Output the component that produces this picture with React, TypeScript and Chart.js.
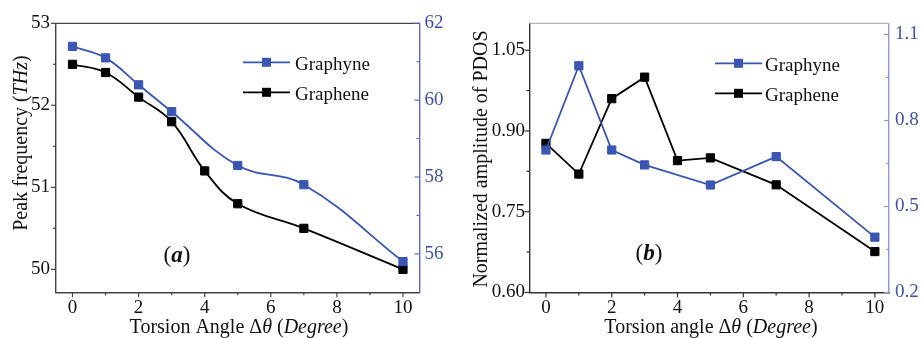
import { useEffect, useRef } from 'react';
import { Chart, registerables } from 'chart.js';

Chart.register(...registerables);

// Torsion angles sampled for each lattice
const grapheneAngles = [0, 1, 2, 3, 4, 5, 7, 10];
const graphyneAngles = [0, 1, 2, 3, 5, 7, 10];

// (a) peak phonon frequency, THz
const peakGraphene = [52.5, 52.4, 52.1, 51.8, 51.2, 50.8, 50.5, 50.0];
const peakGraphyne = [61.4, 61.1, 60.4, 59.7, 58.3, 57.8, 55.8];

// (b) normalized PDOS amplitude
const pdosGraphene = [0.877, 0.82, 0.96, 1.0, 0.845, 0.85, 0.8, 0.676];
const pdosGraphyne = [0.697, 0.991, 0.697, 0.645, 0.575, 0.674, 0.393];

// Tick values
const xMajor = [0, 2, 4, 6, 8, 10];
const xMinor = [1, 3, 5, 7, 9];
const peakLeftMajor = [50, 51, 52, 53];
const peakLeftMinor = [50.5, 51.5, 52.5];
const peakRightMajor = [56, 58, 60, 62];
const peakRightMinor = [57, 59, 61];
const pdosLeftMajor = [0.6, 0.75, 0.9, 1.05];
const pdosLeftMinor = [0.675, 0.825, 0.975];
const pdosRightMajor = [0.2, 0.5, 0.8, 1.1];
const pdosRightMinor = [0.35, 0.65, 0.95];

const BLUE = '#3a55b2';
const BLUE_TEXT = '#3f51a6';
const SERIF = '"Liberation Serif", "Times New Roman", serif';

type Part = { text: string; style?: string };

function drawRich(
  ctx: CanvasRenderingContext2D,
  parts: Part[],
  cx: number,
  base: number,
  size: number,
  rotate = false,
  color = '#111'
) {
  const fontOf = (p: Part) => `${p.style || ''} ${size}px ${SERIF}`;
  let total = 0;
  for (const p of parts) {
    ctx.font = fontOf(p);
    total += ctx.measureText(p.text).width;
  }
  ctx.save();
  ctx.translate(cx, base);
  if (rotate) ctx.rotate(-Math.PI / 2);
  ctx.fillStyle = color;
  ctx.textAlign = 'left';
  ctx.textBaseline = 'alphabetic';
  let x = -total / 2;
  for (const p of parts) {
    ctx.font = fontOf(p);
    ctx.fillText(p.text, x, 0);
    x += ctx.measureText(p.text).width;
  }
  ctx.restore();
}

type LegendRow = { label: string; color: string; lineY: number; base: number };

type PanelSpec = {
  width: number;
  area: { left: number; right: number; top: number; bottom: number };
  xRange: [number, number];
  leftRange: [number, number];
  rightRange: [number, number];
  leftMajor: number[];
  leftMinor: number[];
  rightMajor: number[];
  rightMinor: number[];
  leftDigits: number;
  rightDigits: number;
  leftPad: number;
  rightPad: number;
  frameColor: string;
  topColor: string;
  rightAxisColor: string;
  tension: number;
  blueSeries: number[];
  blackSeries: number[];
  xTitle: Part[];
  xTitleCx: number;
  yTitle: Part[];
  yTitleX: number;
  yTitleCy: number;
  legend: { x1: number; x2: number; tx: number; rows: LegendRow[] };
  tag: string;
  tagCx: number;
  tagBase: number;
};

function Panel({ spec }: { spec: PanelSpec }) {
  const ref = useRef<HTMLCanvasElement | null>(null);

  useEffect(() => {
    const canvas = ref.current;
    if (!canvas) return;
    const s = spec;
    const H = 338;

    const decorations = {
      id: 'decorations',
      afterDraw(chart: any) {
        const ctx: CanvasRenderingContext2D = chart.ctx;
        const ca = chart.chartArea;
        const xs = chart.scales.x;
        const yl = chart.scales.y;
        const yr = chart.scales.y1;
        ctx.save();
        // top frame line
        ctx.strokeStyle = s.topColor;
        ctx.lineWidth = 1.3;
        ctx.beginPath();
        ctx.moveTo(ca.left, ca.top);
        ctx.lineTo(ca.right, ca.top);
        ctx.stroke();

        // tick marks
        const tick = (x1: number, y1: number, x2: number, y2: number, c: string) => {
          ctx.strokeStyle = c;
          ctx.lineWidth = 1.2;
          ctx.beginPath();
          ctx.moveTo(x1, y1);
          ctx.lineTo(x2, y2);
          ctx.stroke();
        };
        xMajor.forEach((v) => {
          const px = xs.getPixelForValue(v);
          tick(px, ca.bottom, px, ca.bottom + 5, s.frameColor);
        });
        xMinor.forEach((v) => {
          const px = xs.getPixelForValue(v);
          tick(px, ca.bottom, px, ca.bottom + 3, s.frameColor);
        });
        s.leftMajor.forEach((v) => {
          const py = yl.getPixelForValue(v);
          tick(ca.left - 5, py, ca.left, py, s.frameColor);
        });
        s.leftMinor.forEach((v) => {
          const py = yl.getPixelForValue(v);
          tick(ca.left - 3, py, ca.left, py, s.frameColor);
        });
        s.rightMajor.forEach((v) => {
          const py = yr.getPixelForValue(v);
          tick(ca.right - 5, py, ca.right, py, s.rightAxisColor);
        });
        s.rightMinor.forEach((v) => {
          const py = yr.getPixelForValue(v);
          tick(ca.right - 3, py, ca.right, py, s.rightAxisColor);
        });

        // axis titles
        drawRich(ctx, s.xTitle, s.xTitleCx, 333, 20);
        drawRich(ctx, s.yTitle, s.yTitleX, s.yTitleCy, 20, true);

        // legend
        const L = s.legend;
        L.rows.forEach((r) => {
          ctx.strokeStyle = r.color;
          ctx.lineWidth = 1.8;
          ctx.beginPath();
          ctx.moveTo(L.x1, r.lineY);
          ctx.lineTo(L.x2, r.lineY);
          ctx.stroke();
          ctx.fillStyle = r.color;
          const mx = (L.x1 + L.x2) / 2;
          ctx.fillRect(mx - 4.5, r.lineY - 4.5, 9, 9);
          ctx.font = `19px ${SERIF}`;
          ctx.fillStyle = '#111';
          ctx.textAlign = 'left';
          ctx.textBaseline = 'alphabetic';
          ctx.fillText(r.label, L.tx, r.base);
        });

        // panel tag
        drawRich(
          ctx,
          [{ text: '(' }, { text: s.tag, style: 'italic bold' }, { text: ')' }],
          s.tagCx,
          s.tagBase,
          23
        );
        ctx.restore();
      },
    };

    const mkLine = (xsArr: number[], ys: number[]) =>
      xsArr.map((x, i) => ({ x, y: ys[i] }));

    const common = {
      type: 'line',
      showLine: true,
      borderWidth: 1.8,
      pointStyle: 'rect',
      pointRadius: 5.8,
      pointBorderWidth: 1,
      tension: s.tension,
      fill: false,
    };

    const chart = new Chart(canvas, {
      type: 'line',
      data: {
        datasets: [
          {
            ...common,
            label: 'Graphyne',
            data: mkLine(graphyneAngles, s.blueSeries),
            borderColor: BLUE,
            backgroundColor: BLUE,
            pointBackgroundColor: BLUE,
            pointBorderColor: BLUE,
            yAxisID: 'y1',
          },
          {
            ...common,
            label: 'Graphene',
            data: mkLine(grapheneAngles, s.blackSeries),
            borderColor: '#000',
            backgroundColor: '#000',
            pointBackgroundColor: '#000',
            pointBorderColor: '#000',
            yAxisID: 'y',
          },
        ] as any,
      },
      options: {
        animation: false,
        responsive: false,
        maintainAspectRatio: false,
        devicePixelRatio: 1,
        layout: { padding: { top: s.area.top, left: 0, right: 0, bottom: 0 } },
        plugins: { legend: { display: false }, tooltip: { enabled: false } },
        scales: {
          x: {
            type: 'linear',
            min: s.xRange[0],
            max: s.xRange[1],
            afterBuildTicks: (sc: any) => {
              sc.ticks = xMajor.map((v) => ({ value: v }));
            },
            afterFit: (sc: any) => {
              sc.height = H - s.area.bottom;
            },
            grid: { display: true, drawOnChartArea: false, drawTicks: false },
            border: { display: true, color: s.frameColor, width: 1.4 },
            ticks: {
              padding: 4,
              color: '#111',
              maxRotation: 0,
              autoSkip: false,
              font: { family: SERIF, size: 19 },
              callback: (v: any) => String(v),
            },
          },
          y: {
            type: 'linear',
            position: 'left',
            min: s.leftRange[0],
            max: s.leftRange[1],
            afterBuildTicks: (sc: any) => {
              sc.ticks = s.leftMajor.map((v) => ({ value: v }));
            },
            afterFit: (sc: any) => {
              sc.width = s.area.left;
            },
            grid: { display: true, drawOnChartArea: false, drawTicks: false },
            border: { display: true, color: s.frameColor, width: 1.4 },
            ticks: {
              padding: s.leftPad,
              color: '#111',
              autoSkip: false,
              font: { family: SERIF, size: 19 },
              callback: (v: any) => Number(v).toFixed(s.leftDigits),
            },
          },
          y1: {
            type: 'linear',
            position: 'right',
            min: s.rightRange[0],
            max: s.rightRange[1],
            afterBuildTicks: (sc: any) => {
              sc.ticks = s.rightMajor.map((v) => ({ value: v }));
            },
            afterFit: (sc: any) => {
              sc.width = s.width - s.area.right;
            },
            grid: { display: true, drawOnChartArea: false, drawTicks: false },
            border: { display: true, color: s.rightAxisColor, width: 1.4 },
            ticks: {
              padding: s.rightPad,
              color: BLUE_TEXT,
              autoSkip: false,
              font: { family: SERIF, size: 19 },
              callback: (v: any) => Number(v).toFixed(s.rightDigits),
            },
          },
        },
      } as any,
      plugins: [decorations],
    });

    return () => chart.destroy();
  }, [spec]);

  return <canvas ref={ref} width={spec.width} height={338} style={{ display: 'block' }} />;
}

const peakSpec: PanelSpec = {
  width: 460,
  area: { left: 56, right: 419.5, top: 23.3, bottom: 292.3 },
  xRange: [-0.5, 10.5],
  leftRange: [49.72, 53],
  rightRange: [55, 62],
  leftMajor: peakLeftMajor,
  leftMinor: peakLeftMinor,
  rightMajor: peakRightMajor,
  rightMinor: peakRightMinor,
  leftDigits: 0,
  rightDigits: 0,
  leftPad: 6,
  rightPad: 5,
  frameColor: '#444',
  topColor: '#444',
  rightAxisColor: '#5a6bbf',
  tension: 0.4,
  blueSeries: peakGraphyne,
  blackSeries: peakGraphene,
  xTitle: [
    { text: 'Torsion Angle Δ' },
    { text: 'θ', style: 'italic' },
    { text: ' (' },
    { text: 'Degree', style: 'italic' },
    { text: ')' },
  ],
  xTitleCx: 239,
  yTitle: [
    { text: 'Peak frequency (' },
    { text: 'THz', style: 'italic' },
    { text: ')' },
  ],
  yTitleX: 26.5,
  yTitleCy: 143,
  legend: {
    x1: 243,
    x2: 290,
    tx: 295,
    rows: [
      { label: 'Graphyne', color: BLUE, lineY: 62.3, base: 69.5 },
      { label: 'Graphene', color: '#000', lineY: 92.3, base: 99.5 },
    ],
  },
  tag: 'a',
  tagCx: 177,
  tagBase: 262,
};

const pdosSpec: PanelSpec = {
  width: 461,
  area: { left: 69.5, right: 429, top: 23.3, bottom: 292.5 },
  xRange: [-0.5, 10.43],
  leftRange: [0.6, 1.1],
  rightRange: [0.2, 1.139],
  leftMajor: pdosLeftMajor,
  leftMinor: pdosLeftMinor,
  rightMajor: pdosRightMajor,
  rightMinor: pdosRightMinor,
  leftDigits: 2,
  rightDigits: 1,
  leftPad: 4.5,
  rightPad: 6,
  frameColor: '#333',
  topColor: '#b5b5b5',
  rightAxisColor: '#8e9ad0',
  tension: 0,
  blueSeries: pdosGraphyne,
  blackSeries: pdosGraphene,
  xTitle: [
    { text: 'Torsion angle Δ' },
    { text: 'θ', style: 'italic' },
    { text: ' (' },
    { text: 'Degree', style: 'italic' },
    { text: ')' },
  ],
  xTitleCx: 251,
  yTitle: [{ text: 'Normalized amplitude of PDOS' }],
  yTitleX: 27,
  yTitleCy: 159,
  legend: {
    x1: 255,
    x2: 302,
    tx: 305,
    rows: [
      { label: 'Graphyne', color: BLUE, lineY: 63.3, base: 71 },
      { label: 'Graphene', color: '#000', lineY: 93.3, base: 100.5 },
    ],
  },
  tag: 'b',
  tagCx: 189,
  tagBase: 260,
};

export default function App() {
  return (
    <div
      style={{
        position: 'absolute',
        left: 0,
        top: 0,
        width: 921,
        height: 338,
        background: '#fff',
        display: 'flex',
      }}
    >
      <Panel spec={peakSpec} />
      <Panel spec={pdosSpec} />
    </div>
  );
}
